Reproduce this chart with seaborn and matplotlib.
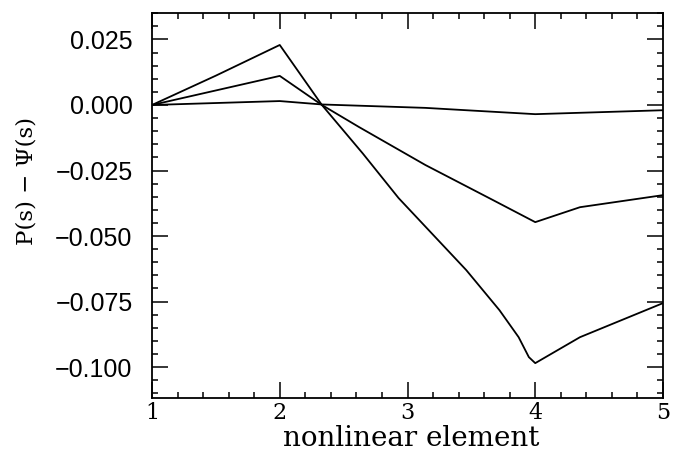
import matplotlib
matplotlib.use("Agg")
import matplotlib.pyplot as plt
from matplotlib.ticker import AutoMinorLocator, FixedLocator, FixedFormatter
import pandas as pd
import seaborn as sns

# ---- data ----
x_big = [1, 1.5, 2, 2.33, 2.65, 2.93, 3.46, 3.72, 3.87, 3.95, 4, 4.35, 4.73, 5]
y_big = [0, 0.0112, 0.0229, 0, -0.0185, -0.0355, -0.063, -0.0783, -0.0886, -0.0962, -0.0985, -0.0886, -0.081, -0.0756]

x_mid = [1, 2, 2.33, 2.62, 3.14, 3.67, 4, 4.35, 5]
y_mid = [0, 0.0111, 0, -0.0084, -0.0229, -0.0363, -0.0447, -0.039, -0.0344]

x_small = [1, 2, 2.33, 3.14, 3.46, 4, 5]
y_small = [0, 0.0015, 0.0002, -0.0011, -0.0020, -0.0035, -0.002]

x_ticks = [1, 2, 3, 4, 5]
x_ticklabels = ["1", "2", "3", "4", "5"]
y_ticks = [-0.100, -0.075, -0.050, -0.025, 0.000, 0.025]
y_ticklabels = ["\u22120.100", "\u22120.075", "\u22120.050", "\u22120.025", "0.000", "0.025"]

x_label = "nonlinear element"
y_label = "P(s) \u2212 \u03a8(s)"

sns.set_style("ticks")
plt.rcParams["font.family"] = ["DejaVu Serif"]
for k in ["text.color", "axes.labelcolor", "xtick.color", "ytick.color", "axes.edgecolor"]:
    plt.rcParams[k] = "black"

fig = plt.figure(figsize=(6.74, 4.59), dpi=100)
ax = fig.add_axes([152 / 674, 1 - 398 / 459, (663 - 152) / 674, (398 - 13) / 459])

for xs, ys in [(x_big, y_big), (x_mid, y_mid), (x_small, y_small)]:
    df = pd.DataFrame({"x": xs, "y": ys})
    sns.lineplot(data=df, x="x", y="y", color="black", linewidth=1.3, ax=ax)

ax.set_xlim(1, 5)
ax.set_ylim(-0.1118, 0.0351)

ax.xaxis.set_major_locator(FixedLocator(x_ticks))
ax.xaxis.set_major_formatter(FixedFormatter(x_ticklabels))
ax.yaxis.set_major_locator(FixedLocator(y_ticks))
ax.yaxis.set_major_formatter(FixedFormatter(y_ticklabels))
ax.xaxis.set_minor_locator(AutoMinorLocator(5))
ax.yaxis.set_minor_locator(AutoMinorLocator(5))

ax.tick_params(which="both", direction="in", top=True, right=True, color="black", width=1.1)
ax.tick_params(which="major", length=11.5)
ax.tick_params(which="minor", length=4.5)
ax.tick_params(axis="x", which="major", pad=3, labelsize=16, labelcolor="black")
ax.tick_params(axis="y", which="major", pad=14, labelsize=18, labelcolor="black")
for lab in ax.get_yticklabels():
    lab.set_family("Liberation Sans")

for sp in ax.spines.values():
    sp.set_linewidth(1.3)
    sp.set_color("black")

ax.set_xlabel(x_label, fontsize=20, color="black")
ax.set_ylabel(y_label, fontsize=16.5, color="black")
ax.xaxis.set_label_coords(0.508, -0.07)
ax.yaxis.set_label_coords(-0.225, 0.564)

fig.savefig("out.png", dpi=100)
